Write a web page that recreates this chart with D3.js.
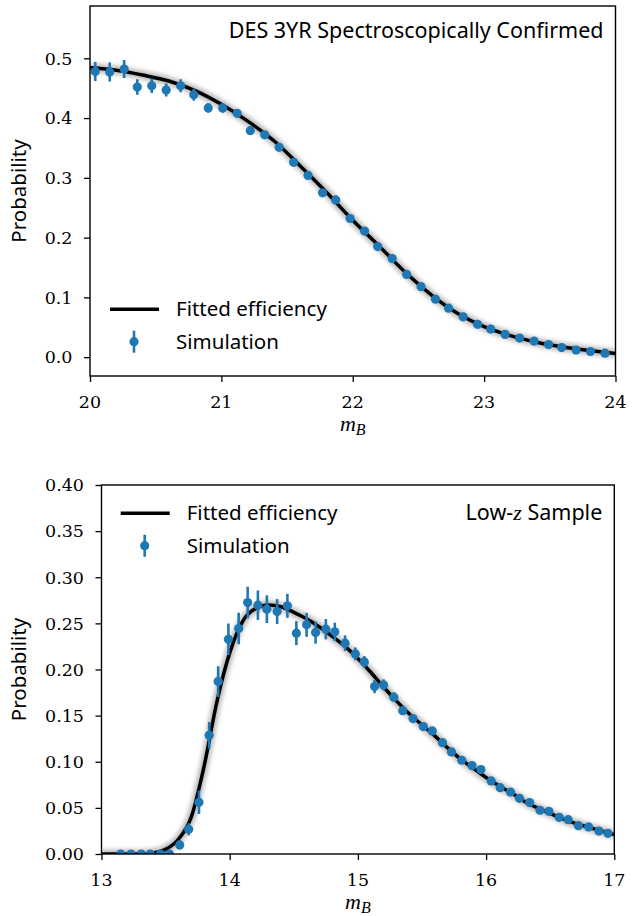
<!DOCTYPE html>
<html><head><meta charset="utf-8">
<script src="https://cdn.jsdelivr.net/npm/d3@7"></script>
<style>
html,body{margin:0;padding:0;background:#fff;}
svg{display:block;}
</style></head>
<body>
<script>
// ---------- DATA ----------
// Top panel: DES 3YR Spectroscopically Confirmed
const topMag = [20.04,20.15,20.26,20.36,20.47,20.58,20.69,20.79,20.90,21.01,21.12,21.22,21.33,21.44,21.55,21.66,21.77,21.87,21.98,22.09,22.19,22.30,22.41,22.52,22.63,22.73,22.84,22.95,23.05,23.16,23.27,23.38,23.49,23.59,23.70,23.81,23.92];
const topProb = [0.478,0.477,0.482,0.452,0.454,0.447,0.454,0.439,0.417,0.417,0.408,0.379,0.372,0.351,0.326,0.304,0.275,0.263,0.232,0.211,0.185,0.165,0.1385,0.118,0.097,0.082,0.0675,0.055,0.047,0.038,0.032,0.027,0.021,0.016,0.012,0.0095,0.0067];
const topErr = [0.016,0.016,0.015,0.013,0.012,0.011,0.011,0.010,0.008,0.008,0.007,0.006,0.006,0.006,0.005,0.005,0.005,0.005,0.004,0.004,0.004,0.004,0.003,0.003,0.003,0.003,0.003,0.002,0.002,0.002,0.002,0.002,0.002,0.001,0.001,0.001,0.001];
const topCurveMag = [20.0,20.2,20.4,20.6,20.8,21.0,21.2,21.4,21.6,21.8,22.0,22.2,22.4,22.6,22.8,23.0,23.2,23.4,23.6,23.8,24.0];
const topCurveProb = [0.484,0.480,0.472,0.462,0.446,0.423,0.395,0.362,0.320,0.276,0.229,0.186,0.142,0.104,0.073,0.051,0.036,0.025,0.017,0.011,0.006];
const topXTicks = [20,21,22,23,24];
const topYTicks = [0.0,0.1,0.2,0.3,0.4,0.5];

// Bottom panel: Low-z Sample
const botMag = [13.15,13.23,13.31,13.38,13.46,13.53,13.61,13.68,13.76,13.84,13.91,13.99,14.07,14.14,14.22,14.29,14.37,14.45,14.52,14.60,14.67,14.75,14.82,14.90,14.98,15.05,15.13,15.20,15.28,15.35,15.43,15.51,15.58,15.66,15.73,15.81,15.89,15.96,16.04,16.11,16.19,16.26,16.34,16.42,16.49,16.57,16.64,16.72,16.80,16.88,16.95];
const botProb = [0,0,0,0,0,0,0.0098,0.0268,0.056,0.1287,0.1869,0.2328,0.2444,0.2726,0.2697,0.2654,0.2628,0.269,0.2394,0.2484,0.240,0.2437,0.2408,0.2285,0.2169,0.2082,0.1815,0.1833,0.170,0.1554,0.1468,0.1381,0.1334,0.1207,0.1106,0.1016,0.0958,0.0915,0.0792,0.0719,0.0672,0.0604,0.0557,0.0474,0.0463,0.0398,0.0372,0.0307,0.0293,0.0249,0.0224];
const botErr = [0,0,0,0,0,0.001,0.005,0.0065,0.0127,0.0145,0.0166,0.017,0.017,0.017,0.016,0.015,0.0135,0.013,0.013,0.013,0.012,0.011,0.010,0.0085,0.007,0.0063,0.0072,0.006,0.005,0.0045,0.004,0.004,0.0035,0.0035,0.003,0.003,0.003,0.003,0.0025,0.0025,0.0025,0.002,0.002,0.002,0.002,0.0015,0.0015,0.0015,0.0015,0.001,0.001];
const botCurveMag = [13.0,13.3,13.4,13.5,13.6,13.7,13.8,13.9,14.0,14.1,14.2,14.3,14.4,14.5,14.6,14.7,14.8,14.9,15.0,15.1,15.2,15.3,15.4,15.5,15.6,15.7,15.8,15.9,16.0,16.1,16.2,16.3,16.4,16.5,16.6,16.7,16.8,16.9,17.0];
const botCurveProb = [0.000,0.000,0.001,0.005,0.016,0.040,0.095,0.165,0.218,0.252,0.266,0.270,0.268,0.262,0.255,0.246,0.236,0.225,0.212,0.197,0.181,0.166,0.152,0.140,0.128,0.115,0.103,0.093,0.083,0.074,0.066,0.057,0.050,0.044,0.038,0.033,0.029,0.025,0.021];
const botXTicks = [13,14,15,16,17];
const botYTicks = [0.00,0.05,0.10,0.15,0.20,0.25,0.30,0.35,0.40];

const legendLabels = ["Fitted efficiency","Simulation"];

// ---------- STYLE ----------
const BLUE = "#1f77b4";
const SERIF = "DejaVu Serif";
const SERIF2 = "Liberation Serif";
const SANS = "Noto Sans";
const TICKFS = 17.5, SANSFS = 20.5, TITLEFS = 21.5;

const svg = d3.select("body").append("svg").attr("width",639).attr("height",916);
const defs = svg.append("defs");
defs.append("filter").attr("id","blur").attr("x","-10%").attr("y","-10%").attr("width","120%").attr("height","120%")
  .append("feGaussianBlur").attr("stdDeviation",2);

function panel(cfg){
  const {id,x,y,mag,prob,err,cMag,cProb,xTicks,yTicks,yFmt,title,legendX,legendY} = cfg;
  const [x0,x1] = x.range(), [yb,yt] = y.range();
  const g = svg.append("g");
  defs.append("clipPath").attr("id","clip"+id).append("rect")
    .attr("x",x0).attr("y",yt).attr("width",x1-x0).attr("height",yb-yt);
  const plot = g.append("g").attr("clip-path",`url(#clip${id})`);
  const line = d3.line().x((d,i)=>x(cMag[i])).y(d=>y(d)).curve(d3.curveMonotoneX);
  plot.append("path").attr("d",line(cProb)).attr("fill","none")
    .attr("stroke","#777").attr("stroke-width",9).attr("opacity",0.5).attr("filter","url(#blur)");
  plot.append("path").attr("d",line(cProb)).attr("fill","none")
    .attr("stroke","#000").attr("stroke-width",3.5).attr("stroke-linejoin","round");
  plot.selectAll("line.eb").data(prob).join("line").attr("class","eb")
    .attr("x1",(d,i)=>x(mag[i])).attr("x2",(d,i)=>x(mag[i]))
    .attr("y1",(d,i)=>y(d-err[i])).attr("y2",(d,i)=>y(d+err[i]))
    .attr("stroke",BLUE).attr("stroke-width",2.6);
  plot.selectAll("circle").data(prob).join("circle")
    .attr("cx",(d,i)=>x(mag[i])).attr("cy",d=>y(d)).attr("r",4.6).attr("fill",BLUE);

  const ax = g.append("g").attr("transform",`translate(0,${yb})`)
    .call(d3.axisBottom(x).tickValues(xTicks).tickSize(6).tickFormat(""));
  const ay = g.append("g").attr("transform",`translate(${x0},0)`)
    .call(d3.axisLeft(y).tickValues(yTicks).tickSize(6).tickFormat(""));
  [ax,ay].forEach(a=>{
    a.select(".domain").remove();
    a.selectAll(".tick line").attr("stroke","#000").attr("stroke-width",1.3);
    a.selectAll(".tick text").remove();
  });
  const fx = d3.format("d"), fy = d3.format(yFmt);
  svg.append("g").selectAll("text").data(xTicks).join("text")
    .attr("x",d=>x(d)).attr("y",yb+31.5).attr("text-anchor","middle")
    .attr("font-family",SERIF).attr("font-size",TICKFS).attr("fill","#000").text(d=>fx(d));
  svg.append("g").selectAll("text").data(yTicks).join("text")
    .attr("x",x0-17.5).attr("y",d=>y(d)+6.3).attr("text-anchor","end")
    .attr("font-family",SERIF).attr("font-size",TICKFS).attr("fill","#000").text(d=>fy(d));

  g.append("rect").attr("x",x0).attr("y",yt).attr("width",x1-x0).attr("height",yb-yt)
    .attr("fill","none").attr("stroke","#000").attr("stroke-width",1.4);

  svg.append("text").attr("transform",`translate(26,${(yb+yt)/2}) rotate(-90)`)
    .attr("text-anchor","middle").attr("font-family",SANS).attr("font-size",SANSFS).text("Probability");
  const xl = svg.append("text").attr("x",(x0+x1)/2).attr("y",yb+55).attr("text-anchor","middle")
    .attr("font-family",SERIF2).attr("font-style","italic").attr("font-size",22);
  xl.append("tspan").text("m");
  xl.append("tspan").attr("font-size",16).attr("dy",4).text("B");

  const tt = svg.append("text").attr("x",x1-12).attr("y",title.y).attr("text-anchor","end")
    .attr("font-family",SANS).attr("font-size",TITLEFS);
  title.parts.forEach(p=>{
    const ts = tt.append("tspan").text(p.t);
    if(p.math) ts.attr("font-family",SERIF2).attr("font-style","italic").attr("font-size",22);
  });

  const lg = svg.append("g").attr("transform",`translate(${legendX},${legendY})`);
  lg.append("line").attr("x1",0).attr("x2",49).attr("y1",0).attr("y2",0).attr("stroke","#000").attr("stroke-width",3.5);
  lg.append("line").attr("x1",24).attr("x2",24).attr("y1",32.4-11).attr("y2",32.4+11).attr("stroke",BLUE).attr("stroke-width",2.6);
  lg.append("circle").attr("cx",24).attr("cy",32.4).attr("r",4.6).attr("fill",BLUE);
  legendLabels.forEach((t,i)=>{
    lg.append("text").attr("x",66).attr("y",i*32.4+7).attr("font-family",SANS).attr("font-size",SANSFS).text(t);
  });
}

panel({
  id:"top",
  x: d3.scaleLinear().domain([20,24]).range([90,615.5]),
  y: d3.scaleLinear().domain([-0.0315,0.5875]).range([376,6]),
  mag:topMag, prob:topProb, err:topErr, cMag:topCurveMag, cProb:topCurveProb,
  xTicks:topXTicks, yTicks:topYTicks, yFmt:".1f",
  title:{y:38, parts:[{t:"DES 3YR Spectroscopically Confirmed"}]},
  legendX:110, legendY:309.3
});
panel({
  id:"bot",
  x: d3.scaleLinear().domain([13,17]).range([101.5,614.3]),
  y: d3.scaleLinear().domain([0,0.40]).range([854,485]),
  mag:botMag, prob:botProb, err:botErr, cMag:botCurveMag, cProb:botCurveProb,
  xTicks:botXTicks, yTicks:botYTicks, yFmt:".2f",
  title:{y:520, parts:[{t:"Low-"},{t:"z",math:true},{t:" Sample"}]},
  legendX:120.7, legendY:513.3
});
</script>
</body></html>
